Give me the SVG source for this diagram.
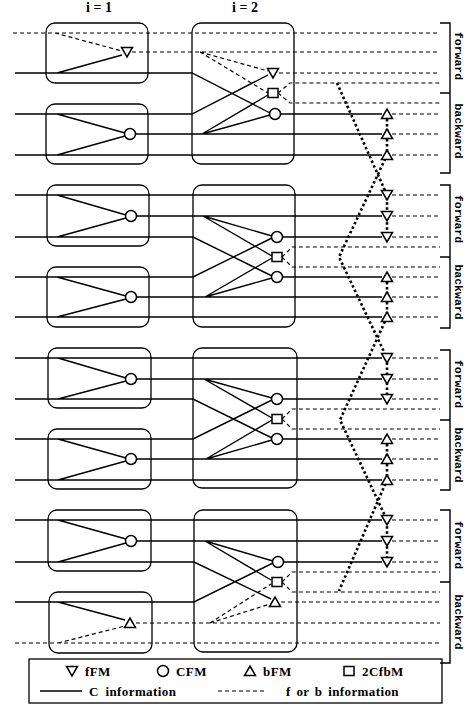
<svg xmlns="http://www.w3.org/2000/svg" xmlns:xlink="http://www.w3.org/1999/xlink" width="464" height="708" viewBox="0 0 464 708">
<style>
.s{fill:none;stroke:#000;stroke-width:1.4}
.d{fill:none;stroke:#000;stroke-width:1.2;stroke-dasharray:4 3}
.b{fill:none;stroke:#000;stroke-width:2.6;stroke-dasharray:2.5 2.5}
.box{fill:none;stroke:#000;stroke-width:1.3}
.m{fill:#fff;stroke:#000;stroke-width:1.5}
.br{fill:none;stroke:#000;stroke-width:1.4}
.t{font-family:"Liberation Serif",serif;font-weight:bold;font-size:13px;letter-spacing:0.4px;fill:#000}
.h{font-family:"Liberation Serif",serif;font-weight:bold;font-size:14px;fill:#000}
.v{font-family:"Liberation Mono","DejaVu Sans Mono",monospace;font-weight:bold;font-size:11.5px;fill:#000}
</style>
<defs>
<path id="tD" d="M-5.5,-4.5 H5.5 L0,5 Z"/>
<path id="tU" d="M-5.5,4.5 H5.5 L0,-5 Z"/>
<circle id="cc" r="5.5"/>
<rect id="sq" x="-5" y="-4.5" width="10" height="9"/>
</defs>
<rect width="464" height="708" fill="#fff"/>
<text class="h" x="99" y="12" text-anchor="middle">i = 1</text>
<text class="h" x="245" y="12" text-anchor="middle">i = 2</text>
<g id="connectors">
<!-- group 1 -->
<path class="d" d="M13,33 H440 M55,33 L122,51 M132,52 H440 M200,52 L268,71 M200,52 L268,93 M279,73 H440 M278,93 L290,83 H440 M278,93 L290,103 H440 M392,114 H440 M392,134 H440 M392,155 H440"/>
<path class="s" d="M15,73 H192 L270,113 M57,73 L122,55 M15,114 H192 L268,75 M57,114 L125,133 M15,155 H382 M57,155 L125,136 M136,134 H382 M202,134 L268,95 M202,134 L270,115 M281,114 H382"/>
<!-- group 2 -->
<path class="s" d="M15,195 H382 M57,195 L126,215 M137,216 H382 M203,216 L272,236 M203,216 L272,256 M15,237 H193 L272,276 M57,237 L126,218 M15,277 H193 L272,238 M57,277 L126,296 M137,297 H382 M205,297 L272,258 M205,297 L272,278 M15,317 H382 M57,317 L126,299 M283,237 H382 M283,277 H382"/>
<path class="d" d="M282,257 L292,247 H440 M282,257 L292,267 H440 M392,195 H440 M392,216 H440 M392,237 H440 M392,277 H440 M392,297 H440 M392,317 H440"/>
<!-- group 3 -->
<path class="s" d="M15,358 H382 M58,358 L126,378 M137,379 H382 M204,379 L272,398 M204,379 L272,418 M15,399 H193 L272,438 M58,399 L126,381 M15,439 H193 L272,400 M58,439 L126,458 M137,459 H382 M206,459 L272,420 M206,459 L272,440 M15,480 H382 M58,480 L126,461 M283,399 H382 M283,439 H382"/>
<path class="d" d="M282,419 L292,409 H440 M282,419 L292,429 H440 M392,358 H440 M392,379 H440 M392,399 H440 M392,439 H440 M392,459 H440 M392,480 H440"/>
<!-- group 4 -->
<path class="s" d="M15,520 H382 M58,520 L126,539 M137,541 H382 M205,541 L273,561 M205,541 L271,580 M15,562 H194 L271,599 M58,562 L126,543 M15,602 H194 L273,563 M58,602 L125,620 M284,562 H382"/>
<path class="d" d="M15,643 H440 M58,643 L125,626 M136,623 H440 M210,623 L271,584 M210,623 L270,604 M282,582 L292,572 H440 M282,582 L292,592 H440 M281,602 H440 M392,520 H440 M392,541 H440 M392,562 H440"/>
<!-- bold links between groups -->
<path class="b" d="M337,83 L387,195 L387,237"/>
<path class="b" d="M387,114 L387,155 L339,257 L387,358 L387,399"/>
<path class="b" d="M387,277 L387,317 L340,420 L387,520 L387,562"/>
<path class="b" d="M387,439 L387,480 L339,591"/>
</g>
<g id="g1-box-a"><rect class="box" x="46" y="23" width="102" height="60" rx="9"/><use href="#tD" class="m" x="127" y="52"/></g>
<g id="g1-box-b"><rect class="box" x="46" y="104" width="102" height="60" rx="9"/><use href="#cc" class="m" x="130" y="134"/></g>
<g id="g1-box-c"><rect class="box" x="192" y="23" width="102" height="141" rx="9"/><use href="#tD" class="m" x="273" y="73"/><use href="#sq" class="m" x="273" y="93"/><use href="#cc" class="m" x="275" y="114"/></g>
<g id="g1-out"><use href="#tU" class="m" x="387" y="114"/><use href="#tU" class="m" x="387" y="134"/><use href="#tU" class="m" x="387" y="155"/></g>
<g id="g2-box-a"><rect class="box" x="47" y="185" width="102" height="61" rx="9"/><use href="#cc" class="m" x="131" y="216"/></g>
<g id="g2-box-b"><rect class="box" x="47" y="267" width="102" height="60" rx="9"/><use href="#cc" class="m" x="131" y="297"/></g>
<g id="g2-box-c"><rect class="box" x="193" y="185" width="102" height="142" rx="9"/><use href="#cc" class="m" x="277" y="237"/><use href="#sq" class="m" x="277" y="257"/><use href="#cc" class="m" x="277" y="277"/></g>
<g id="g2-out"><use href="#tD" class="m" x="387" y="195"/><use href="#tD" class="m" x="387" y="216"/><use href="#tD" class="m" x="387" y="237"/><use href="#tU" class="m" x="387" y="277"/><use href="#tU" class="m" x="387" y="297"/><use href="#tU" class="m" x="387" y="317"/></g>
<g id="g3-box-a"><rect class="box" x="48" y="348" width="103" height="60" rx="9"/><use href="#cc" class="m" x="131" y="379"/></g>
<g id="g3-box-b"><rect class="box" x="48" y="429" width="103" height="60" rx="9"/><use href="#cc" class="m" x="131" y="459"/></g>
<g id="g3-box-c"><rect class="box" x="193" y="348" width="104" height="140" rx="9"/><use href="#cc" class="m" x="277" y="399"/><use href="#sq" class="m" x="277" y="419"/><use href="#cc" class="m" x="277" y="439"/></g>
<g id="g3-out"><use href="#tD" class="m" x="387" y="358"/><use href="#tD" class="m" x="387" y="379"/><use href="#tD" class="m" x="387" y="399"/><use href="#tU" class="m" x="387" y="439"/><use href="#tU" class="m" x="387" y="459"/><use href="#tU" class="m" x="387" y="480"/></g>
<g id="g4-box-a"><rect class="box" x="48" y="510" width="103" height="61" rx="9"/><use href="#cc" class="m" x="131" y="541"/></g>
<g id="g4-box-b"><rect class="box" x="49" y="592" width="103" height="61" rx="9"/><use href="#tU" class="m" x="130" y="623"/></g>
<g id="g4-box-c"><rect class="box" x="194" y="510" width="103" height="142" rx="9"/><use href="#cc" class="m" x="278" y="562"/><use href="#sq" class="m" x="277" y="582"/><use href="#tU" class="m" x="275" y="602"/></g>
<g id="g4-out"><use href="#tD" class="m" x="387" y="520"/><use href="#tD" class="m" x="387" y="541"/><use href="#tD" class="m" x="387" y="562"/></g>
<g id="brackets">
<path class="br" d="M440,23 H450 V173 H440 M440,93 H450"/>
<path class="br" d="M440,185 H450 V328 H440 M440,257 H450"/>
<path class="br" d="M440,350 H450 V490 H440 M440,420 H450"/>
<path class="br" d="M440,510 H450 V663 H440 M440,582 H450"/>
<text class="v" transform="translate(455,56) rotate(90)" text-anchor="middle">forward</text>
<text class="v" transform="translate(455,131) rotate(90)" text-anchor="middle">backward</text>
<text class="v" transform="translate(455,219) rotate(90)" text-anchor="middle">forward</text>
<text class="v" transform="translate(455,292) rotate(90)" text-anchor="middle">backward</text>
<text class="v" transform="translate(455,384) rotate(90)" text-anchor="middle">forward</text>
<text class="v" transform="translate(455,455) rotate(90)" text-anchor="middle">backward</text>
<text class="v" transform="translate(455,545) rotate(90)" text-anchor="middle">forward</text>
<text class="v" transform="translate(455,622) rotate(90)" text-anchor="middle">backward</text>
</g>
<g id="legend">
<rect class="box" x="29" y="659" width="413" height="44"/>
<use href="#tD" class="m" x="72" y="671"/><text class="t" x="85" y="676">fFM</text>
<use href="#cc" class="m" x="163" y="671"/><text class="t" x="176" y="676">CFM</text>
<use href="#tU" class="m" x="250" y="671"/><text class="t" x="263" y="676">bFM</text>
<use href="#sq" class="m" x="349" y="671"/><text class="t" x="362" y="676">2CfbM</text>
<path class="s" d="M40,691 H82"/><text class="t" x="89" y="696" word-spacing="3">C information</text>
<path class="d" d="M218,691 H264"/><text class="t" x="286" y="696" word-spacing="2">f or b information</text>
</g>
</svg>
